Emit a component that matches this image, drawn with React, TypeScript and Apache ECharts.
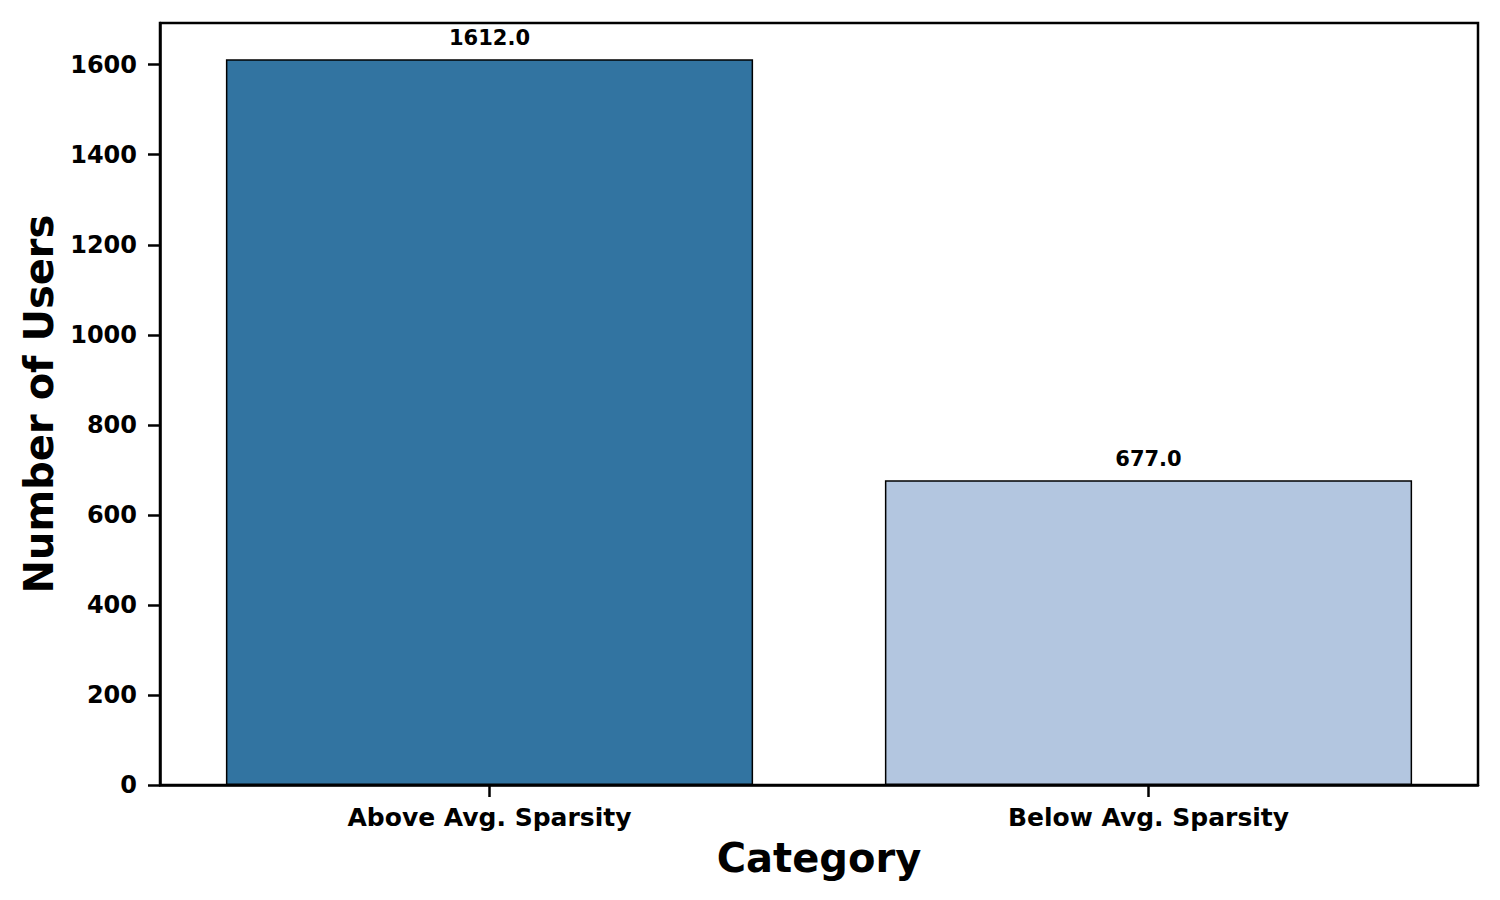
import React, { useEffect, useRef } from "react";
import * as echarts from "echarts";

const categories = ["Above Avg. Sparsity", "Below Avg. Sparsity"];
const userCounts = [1612, 677];
const barColors = ["#3274a1", "#b3c6e0"];
const yTicks = [0, 200, 400, 600, 800, 1000, 1200, 1400, 1600];

export default function App() {
  const ref = useRef<HTMLDivElement>(null);
  useEffect(() => {
    if (!ref.current) return;
    const chart = echarts.init(ref.current, undefined, { renderer: "svg" });
    const font = "DejaVu Sans";
    chart.setOption({
      animation: false,
      backgroundColor: "#ffffff",
      textStyle: { fontFamily: font },
      grid: {
        left: 160,
        right: 22,
        top: 23,
        bottom: 115,
        show: true,
        borderColor: "#000",
        borderWidth: 2.5,
        backgroundColor: "transparent",
      },
      xAxis: {
        type: "category",
        data: categories,
        name: "Category",
        nameLocation: "middle",
        nameGap: 53,
        nameTextStyle: { fontFamily: font, fontWeight: "bold", fontSize: 40, color: "#000" },
        axisLine: { lineStyle: { color: "#000", width: 2.5 } },
        axisTick: { show: true, alignWithLabel: true, length: 12, lineStyle: { color: "#000", width: 2.5 } },
        axisLabel: { fontFamily: font, fontWeight: "bold", fontSize: 25, color: "#000", margin: 20 },
      },
      yAxis: {
        type: "value",
        min: 0,
        max: 1692.6,
        interval: 200,
        name: "Number of Users",
        nameLocation: "middle",
        nameGap: 100,
        nameTextStyle: { fontFamily: font, fontWeight: "bold", fontSize: 40, color: "#000" },
        splitLine: { show: false },
        axisLine: { show: true, lineStyle: { color: "#000", width: 2.5 } },
        axisTick: {
          show: true,
          length: 12,
          lineStyle: { color: "#000", width: 2.5 },
          customValues: yTicks,
        },
        axisLabel: {
          fontFamily: font,
          fontWeight: "bold",
          fontSize: 24,
          color: "#000",
          margin: 23,
          customValues: yTicks,
          formatter: (v: number) => String(v),
        },
      },
      series: [
        {
          type: "bar",
          data: userCounts.map((v, i) => ({
            value: v,
            itemStyle: { color: barColors[i] },
          })),
          barCategoryGap: "20%",
          itemStyle: { borderColor: "#000", borderWidth: 1.5 },
          label: {
            show: true,
            position: "top",
            distance: 11,
            fontFamily: font,
            fontWeight: "bold",
            fontSize: 21,
            color: "#000",
            formatter: (p: any) => Number(p.value).toFixed(1),
          },
        },
      ],
    });
    return () => chart.dispose();
  }, []);
  return (
    <div
      ref={ref}
      style={{ position: "absolute", left: 0, top: 0, width: 1500, height: 900 }}
    />
  );
}
